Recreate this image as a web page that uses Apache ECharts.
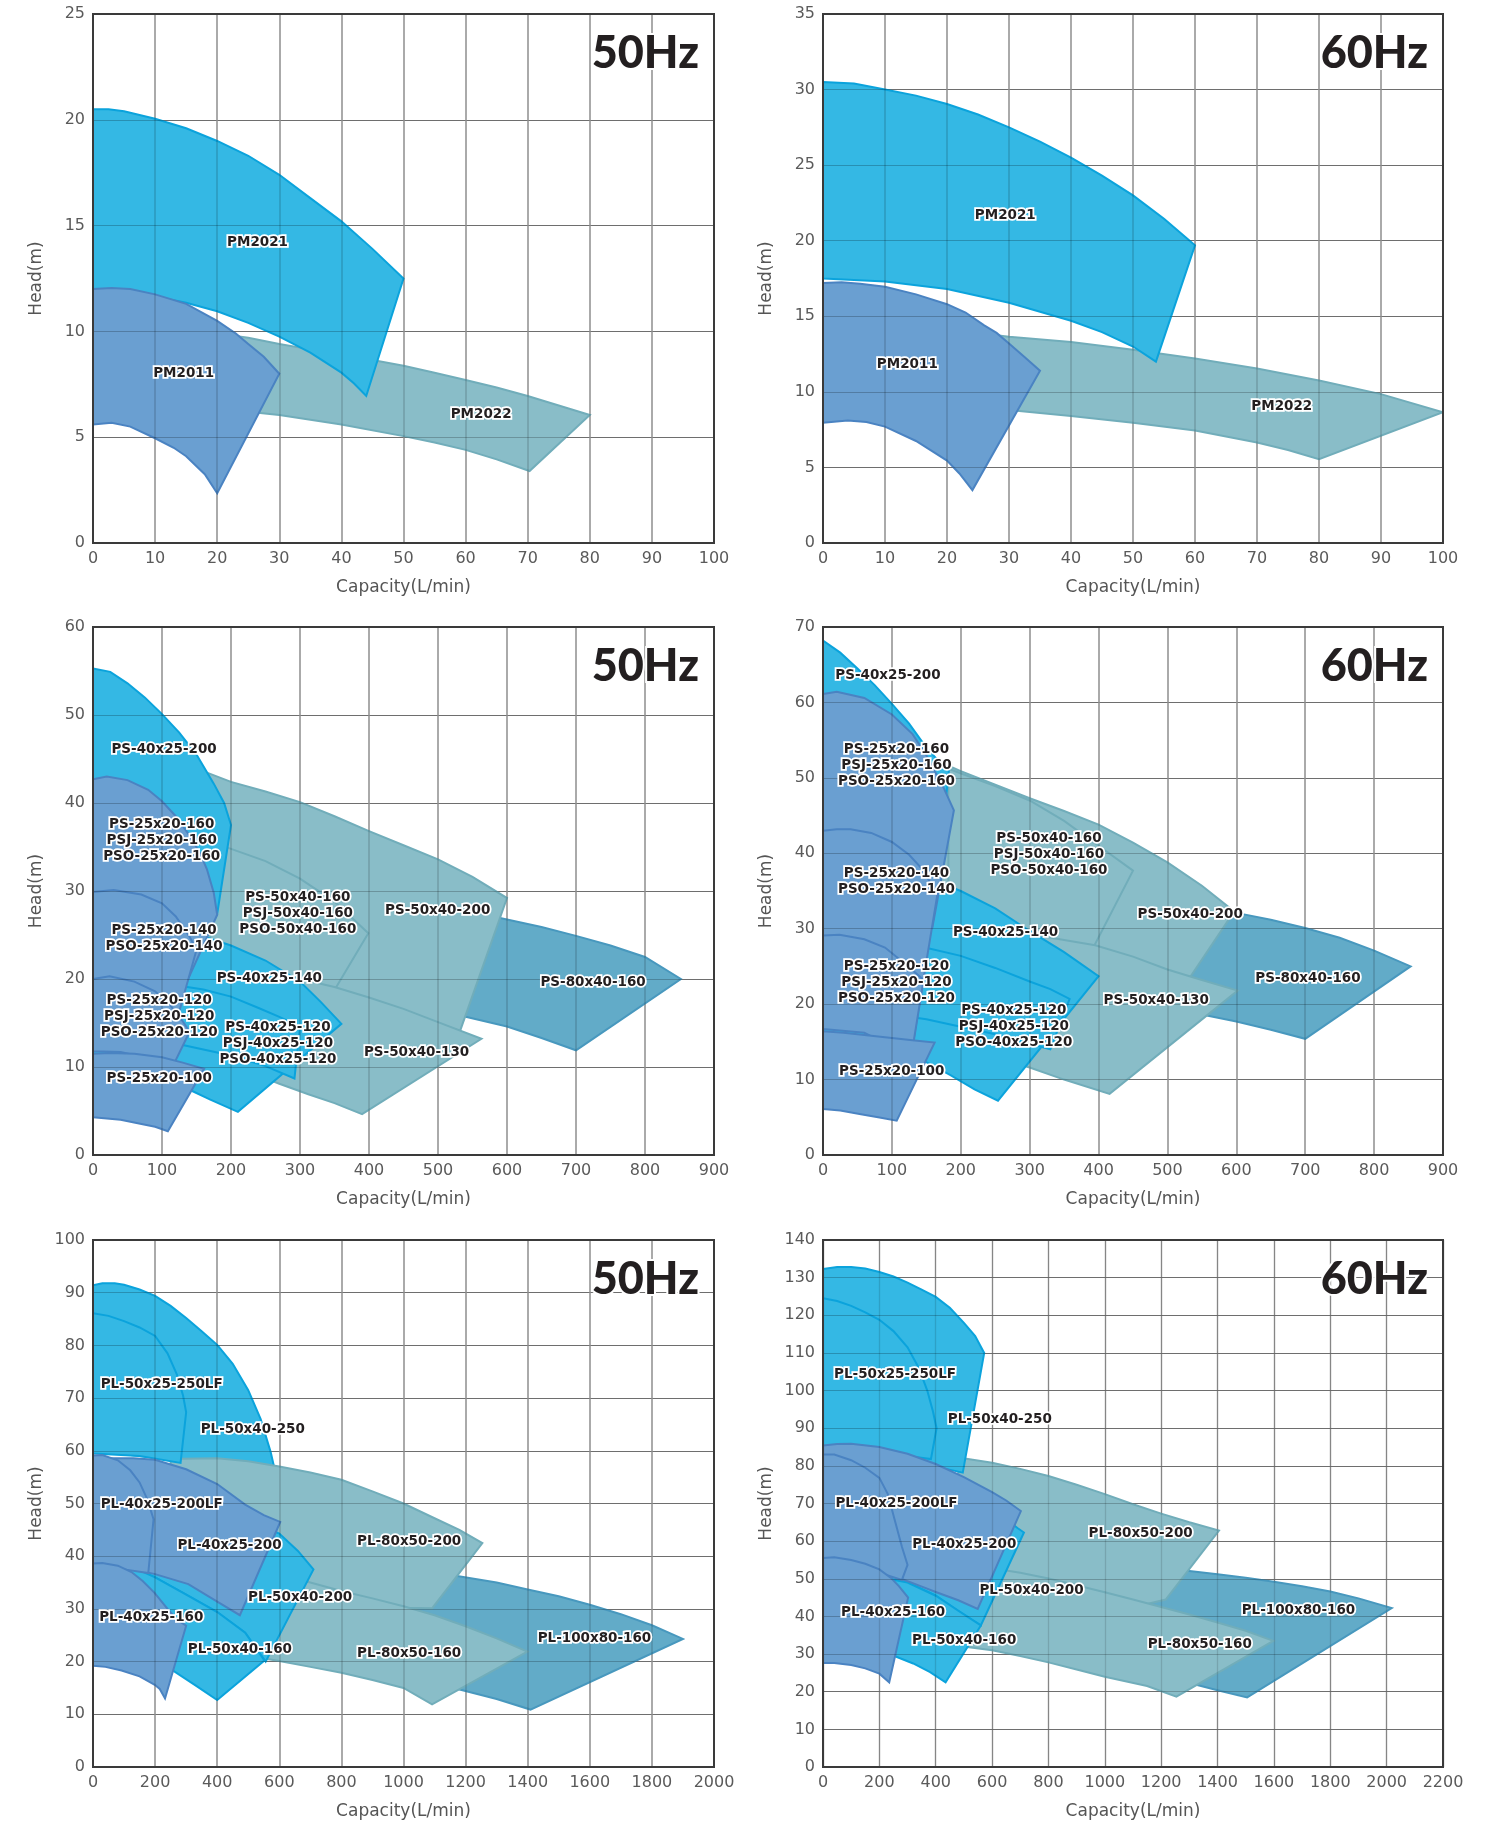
<!DOCTYPE html>
<html><head><meta charset="utf-8">
<script src="https://cdn.jsdelivr.net/npm/echarts@6/dist/echarts.min.js"></script>
<style>html,body{margin:0;padding:0;background:#fff}#c{width:1486px;height:1823px}</style>
</head><body><div id="c"></div><script>
// ---------- axis ranges [min, max, interval] ----------
const P1_X = [0, 100, 10],  P1_Y = [0, 25, 5];
const P2_X = [0, 100, 10],  P2_Y = [0, 35, 5];
const P3_X = [0, 900, 100], P3_Y = [0, 60, 10];
const P4_X = [0, 900, 100], P4_Y = [0, 70, 10];
const P5_X = [0, 2000, 200], P5_Y = [0, 100, 10];
const P6_X = [0, 2200, 200], P6_Y = [0, 140, 10];
const HZ = ['50Hz', '60Hz', '50Hz', '60Hz', '50Hz', '60Hz'];

// ---------- Panel 1 : PM 50Hz (capacity L/min, head m) ----------
const P1_PM2022_top = [[20,9.9],[25,9.7],[30,9.4],[35,9.15],[40,8.9],[45,8.65],[50,8.38],[55,8.05],[60,7.7],[65,7.35],[70,6.95],[75,6.5],[80,6.05]];
const P1_PM2022_bot = [[20,6.4],[25,6.2],[30,6.05],[40,5.6],[50,5.05],[55,4.75],[60,4.4],[65,3.95],[70.3,3.4]];
const P1_PM2021_top = [[0,20.5],[2.5,20.5],[5,20.4],[10,20.05],[15,19.6],[20,19.0],[25,18.3],[30,17.4],[35,16.3],[40,15.2],[45,13.9],[50,12.5]];
const P1_PM2021_bot = [[0,12.0],[5,11.85],[10,11.65],[15,11.35],[20,10.95],[25,10.4],[30,9.75],[35,9.0],[40,8.05],[42,7.55],[44,6.95]];
const P1_PM2011_top = [[0,12.0],[3,12.05],[6,12.0],[10,11.75],[15,11.3],[20,10.5],[23,9.9],[25,9.4],[27.5,8.8],[30,8.0]];
const P1_PM2011_bot = [[0,5.6],[3,5.68],[6,5.5],[10,4.95],[13,4.5],[15,4.1],[18,3.25],[20,2.35]];
const P1_LABELS = [['PM2021',26.5,14.2],['PM2011',14.6,8.0],['PM2022',62.5,6.05]];

// ---------- Panel 2 : PM 60Hz ----------
const P2_PM2022_top = [[25,13.9],[30,13.65],[40,13.3],[50,12.78],[60,12.2],[70,11.55],[80,10.75],[90,9.85],[100,8.65]];
const P2_PM2022_bot = [[25,8.95],[30,8.8],[40,8.4],[50,7.95],[60,7.45],[70,6.65],[75,6.15],[80,5.55]];
const P2_PM2021_top = [[0,30.5],[5,30.4],[10,30.0],[15,29.6],[20,29.05],[25,28.35],[30,27.5],[35,26.55],[40,25.5],[45,24.3],[50,23.0],[55,21.45],[60,19.7]];
const P2_PM2021_bot = [[0,17.5],[10,17.3],[20,16.8],[30,15.9],[40,14.7],[45,13.95],[50,13.0],[53.7,12.0]];
const P2_PM2011_top = [[0,17.2],[3,17.25],[6,17.15],[10,16.95],[15,16.45],[20,15.8],[23,15.25],[26,14.4],[28,13.9],[30,13.2],[32.5,12.3],[35,11.4]];
const P2_PM2011_bot = [[0,7.95],[4,8.1],[7,8.0],[10,7.7],[15,6.75],[20,5.45],[22,4.6],[24.1,3.5]];
const P2_LABELS = [['PM2021',29.4,21.66],['PM2011',13.6,11.8],['PM2022',74,9.05]];

// ---------- Panel 3 : PS 50Hz ----------
const P3_80x40_160_top = [[480,29.0],[580,27.1],[650,25.9],[700,24.9],[750,23.8],[800,22.5],[852,20.0]];
const P3_80x40_160_bot = [[480,16.7],[540,15.7],[600,14.6],[650,13.3],[700,11.9]];
const P3_50x40_200_top = [[150,43.9],[200,42.4],[250,41.3],[300,40.1],[350,38.5],[400,36.8],[450,35.2],[500,33.6],[550,31.6],[600,29.2]];
const P3_50x40_200_bot = [[150,21.5],[200,21.1],[250,20.5],[300,19.7],[350,18.8],[400,17.6],[450,16.3],[500,14.9],[532,14.1]];
const P3_50x40_160_top = [[170,35.6],[196,34.9],[250,33.4],[300,31.4],[350,28.8],[399,25.2]];
const P3_50x40_160_bot = [[170,21.3],[200,20.8],[250,19.8],[300,18.6],[339,17.3]];
const P3_50x40_130_top = [[150,21.8],[200,21.4],[250,20.8],[300,20.0],[350,19.1],[400,17.9],[450,16.6],[500,15.1],[563,13.2]];
const P3_50x40_130_bot = [[150,10.6],[200,9.8],[237,9.1],[270,8.1],[312,6.9],[350,5.9],[390,4.65]];
const P3_40x25_200_top = [[0,55.3],[25,54.9],[50,53.6],[75,52.0],[100,50.1],[125,48.0],[150,45.5],[175,42.2],[190,40.0],[200,37.5]];
const P3_40x25_200_bot = [[0,35],[80,34],[140,31],[180,27.4]];
const P3_40x25_140_top = [[0,26.5],[60,26.3],[120,25.6],[150,25.1],[200,23.8],[250,22.1],[300,19.7],[330,17.4],[360,14.9]];
const P3_40x25_140_bot = [[0,10.3],[80,9.3],[120,8.3],[143,7.3],[170,6.3],[210,4.9]];
const P3_40x25_120_top = [[0,20.5],[60,20.1],[120,19.3],[160,18.8],[200,18.0],[240,16.7],[270,15.7],[300,14.6]];
const P3_40x25_120_bot = [[0,14.0],[100,13.0],[200,11.3],[250,10.1],[292,8.7]];
const P3_25x20_160_top = [[0,42.7],[20,43.0],[50,42.6],[80,41.5],[100,40.2],[120,38.5],[140,36.3],[155,34.3],[165,32.5],[175,29.8],[180,27.3]];
const P3_25x20_160_bot = [[0,25.5],[50,25],[100,23],[135,19.5]];
const P3_25x20_140_top = [[0,29.9],[30,30.1],[70,29.6],[100,28.6],[120,27.1],[140,24.8],[150,23.3]];
const P3_25x20_140_bot = [[0,16.5],[80,15.5],[115,13.5]];
const P3_25x20_120_top = [[0,20.0],[24,20.3],[60,19.7],[90,18.6],[110,17.2],[130,15.2],[140,14.0]];
const P3_25x20_120_bot = [[0,11.8],[40,11.7],[80,11.0],[112,9.5]];
const P3_25x20_100_top = [[0,11.5],[24,11.6],[60,11.5],[100,11.1],[130,10.5],[161,9.8]];
const P3_25x20_100_bot = [[0,4.3],[40,4.0],[72,3.5],[90,3.2],[108.5,2.7]];
const P3_LABELS = [
  ['PS-40x25-200',103,46.1],
  ['PS-25x20-160\nPSJ-25x20-160\nPSO-25x20-160',99.6,35.7],
  ['PS-25x20-140\nPSO-25x20-140',103,24.6],
  ['PS-25x20-120\nPSJ-25x20-120\nPSO-25x20-120',96,15.7],
  ['PS-25x20-100',96,8.7],
  ['PS-40x25-140',255.6,20.1],
  ['PS-40x25-120\nPSJ-40x25-120\nPSO-40x25-120',268,12.7],
  ['PS-50x40-160\nPSJ-50x40-160\nPSO-50x40-160',296.8,27.4],
  ['PS-50x40-200',499.5,27.8],
  ['PS-50x40-130',469,11.7],
  ['PS-80x40-160',724.8,19.65]
];

// ---------- Panel 4 : PS 60Hz ----------
const P4_80x40_160_top = [[520,33.5],[560,32.8],[600,32.1],[650,31.2],[700,30.1],[750,28.8],[800,27.1],[853,25.0]];
const P4_80x40_160_bot = [[520,19.2],[557,18.5],[600,17.7],[650,16.6],[700,15.4]];
const P4_50x40_200_top = [[150,52.8],[182,51.6],[200,50.9],[250,49.1],[300,47.3],[350,45.6],[400,43.8],[450,41.4],[500,38.8],[550,35.7],[597,32.3]];
const P4_50x40_200_bot = [[150,31.5],[200,30.7],[250,29.9],[300,29.0],[350,28.2],[400,27.5],[450,26.0],[500,24.4],[533,23.6]];
const P4_50x40_160_top = [[182,51.2],[250,48.9],[300,47.0],[350,44.3],[400,41.0],[450,37.7]];
const P4_50x40_160_bot = [[182,30.2],[230,29.6],[280,28.6],[330,27.2],[381,25.5]];
const P4_50x40_130_top = [[200,31.0],[250,30.2],[300,29.3],[350,28.5],[395,27.8],[450,26.3],[500,24.6],[550,23.2],[602,21.8]];
const P4_50x40_130_bot = [[200,14.2],[250,13.0],[300,11.6],[350,10.0],[416,8.1]];
const P4_40x25_200_top = [[0,68.2],[25,66.6],[50,64.5],[75,62.3],[100,59.8],[125,57.2],[150,54.0],[170,52.0],[183,51.2]];
const P4_40x25_200_bot = [[0,50],[100,45],[168,38]];
const P4_40x25_140_top = [[0,38.0],[100,37.5],[150,36.8],[200,35.0],[250,32.7],[300,29.7],[350,26.9],[400,23.7]];
const P4_40x25_140_bot = [[0,15.5],[100,14.0],[150,12.3],[185,10.6],[220,8.7],[254,7.2]];
const P4_40x25_120_top = [[0,29.0],[60,28.7],[100,28.3],[148,27.5],[200,26.4],[250,24.8],[300,23.0],[330,22.0],[358,20.7]];
const P4_40x25_120_bot = [[0,20],[150,18],[250,16],[330,14.0]];
const P4_25x20_160_top = [[0,61.1],[20,61.4],[60,60.6],[100,58.4],[130,55.8],[150,53.0],[175,48.7],[190,45.7]];
const P4_25x20_160_bot = [[0,36],[100,34],[159,30.3]];
const P4_25x20_140_top = [[0,43.0],[20,43.2],[40,43.2],[70,42.7],[100,41.5],[125,39.8],[145,37.8],[166,34.5]];
const P4_25x20_140_bot = [[0,20.5],[80,19.5],[132,15.6]];
const P4_25x20_120_top = [[0,29.1],[24,29.2],[60,28.6],[90,27.5],[120,25.3],[146,23.2]];
const P4_25x20_120_bot = [[0,16.7],[60,16.2],[128,13.0]];
const P4_25x20_100_top = [[0,16.4],[30,16.2],[90,15.6],[130,15.2],[162,14.9]];
const P4_25x20_100_bot = [[0,6.1],[25,5.9],[55,5.4],[80,5.0],[107,4.55]];
const P4_LABELS = [
  ['PS-40x25-200',94.3,63.6],
  ['PS-25x20-160\nPSJ-25x20-160\nPSO-25x20-160',106.7,51.6],
  ['PS-25x20-140\nPSO-25x20-140',106.7,36.3],
  ['PS-40x25-140',265,29.5],
  ['PS-25x20-120\nPSJ-25x20-120\nPSO-25x20-120',106.7,22.9],
  ['PS-40x25-120\nPSJ-40x25-120\nPSO-40x25-120',277,17.0],
  ['PS-25x20-100',99.8,11.1],
  ['PS-50x40-160\nPSJ-50x40-160\nPSO-50x40-160',328,39.8],
  ['PS-50x40-200',533,31.9],
  ['PS-50x40-130',483.7,20.5],
  ['PS-80x40-160',704,23.4]
];

// ---------- Panel 5 : PL 50Hz ----------
const P5_100x80_160_top = [[1000,38.0],[1100,36.9],[1168,36.3],[1300,35.0],[1400,33.7],[1500,32.4],[1600,30.8],[1700,29.0],[1800,26.9],[1900,24.3]];
const P5_100x80_160_bot = [[1000,17.0],[1100,15.8],[1168,14.9],[1300,12.9],[1409,10.9]];
const P5_50x40_250_top = [[0,91.4],[30,91.8],[70,91.8],[100,91.5],[150,90.6],[200,89.4],[250,87.5],[300,85.2],[350,82.7],[400,80.1],[450,76.5],[500,71.5],[540,66.0],[572,59.8],[585,56.5]];
const P5_50x40_250_bot = [[0,60],[300,58],[500,52],[570,50]];
const P5_80x50_200_top = [[250,58.4],[285,58.5],[400,58.6],[500,58.0],[600,57.0],[700,55.9],[800,54.5],[900,52.3],[1000,50.0],[1100,47.2],[1180,45.0],[1254,42.5]];
const P5_80x50_200_bot = [[250,43],[400,40],[500,38.2],[600,36.3],[700,34.8],[800,33.0],[900,31.6],[1000,30.2],[1092,30.1]];
const P5_80x50_160_top = [[500,37.5],[550,37.0],[600,36.5],[700,35.0],[800,33.4],[900,32.0],[1000,30.5],[1100,28.8],[1200,26.7],[1300,24.4],[1399,21.9]];
const P5_80x50_160_bot = [[500,21.0],[550,20.6],[600,20.1],[700,19.0],[800,17.9],[900,16.5],[1000,15.0],[1092,11.9]];
const P5_50x25_250LF_top = [[0,86.1],[50,85.6],[100,84.6],[150,83.4],[200,81.8],[240,78.5],[270,74.5],[290,70.5],[300,67.3]];
const P5_50x25_250LF_bot = [[0,59.5],[150,59],[282,57.7]];
const P5_50x40_200_top = [[0,58],[200,56],[300,55],[400,52.5],[500,48.5],[565,45.2],[600,44.3],[660,41.0],[710,37.5]];
const P5_50x40_200_bot = [[0,38.5],[100,38.0],[150,37.3],[200,36.0],[300,32.7],[400,29.4],[490,25.5],[556,20.0]];
const P5_50x40_160_top = [[0,38.5],[100,38.0],[150,37.3],[200,36.0],[300,32.7],[400,29.4],[490,25.5],[552,20.2]];
const P5_50x40_160_bot = [[0,21],[100,20],[200,19.2],[258,18.3],[330,15.5],[400,12.7]];
const P5_40x25_200_top = [[0,58.5],[70,58.6],[130,58.6],[200,58.3],[300,56.5],[400,53.7],[490,49.8],[550,47.8],[603,46.5]];
const P5_40x25_200_bot = [[0,38.2],[145,37.3],[200,36.6],[307,34.7],[400,31.4],[473,28.8]];
const P5_40x25_200LF_top = [[0,59.1],[30,59.2],[80,58.2],[120,56.3],[150,54.0],[175,50.8],[195,47.0]];
const P5_40x25_200LF_bot = [[0,38.0],[100,37.5],[178,36.8]];
const P5_40x25_160_top = [[0,38.6],[30,38.7],[80,38.2],[124,37.0],[160,35.3],[199,33.0],[240,30.0],[270,28.0],[300,26.8]];
const P5_40x25_160_bot = [[0,19.2],[40,19.0],[92,18.3],[150,17.2],[199,15.6],[215,14.8],[232,13.0]];
const P5_LABELS = [
  ['PL-50x25-250LF',221,72.6],['PL-50x40-250',514.5,64.1],['PL-40x25-200LF',221,49.9],
  ['PL-40x25-200',439.7,42.1],['PL-80x50-200',1018,42.8],['PL-50x40-200',667,32.1],
  ['PL-40x25-160',187.8,28.3],['PL-50x40-160',473,22.3],['PL-80x50-160',1018,21.6],
  ['PL-100x80-160',1615,24.3]
];

// ---------- Panel 6 : PL 60Hz ----------
const P6_100x80_160_top = [[1150,53.2],[1250,52.5],[1300,52.1],[1400,51.2],[1500,50.3],[1600,49.2],[1700,48.0],[1800,46.6],[1900,44.8],[2018,42.2]];
const P6_100x80_160_bot = [[1150,24.5],[1250,23.2],[1300,22.3],[1400,20.4],[1505,18.5]];
const P6_80x50_200_top = [[480,82.2],[600,80.8],[700,79.2],[800,77.3],[900,75.0],[1000,72.5],[1100,69.8],[1200,67.3],[1300,65.0],[1405,62.8]];
const P6_80x50_200_bot = [[480,53.4],[600,52.5],[700,51.3],[800,49.8],[900,48.0],[1000,46.1],[1100,44.2],[1150,43.3],[1216,44.5]];
const P6_80x50_160_top = [[500,53.5],[600,52.8],[700,51.6],[800,50.1],[900,48.3],[1000,46.4],[1100,44.5],[1200,42.5],[1300,40.5],[1400,38.4],[1500,36.2],[1598,33.5]];
const P6_80x50_160_bot = [[500,32.0],[600,31.0],[700,29.5],[800,27.8],[900,25.9],[1000,24.0],[1150,21.5],[1254,18.7]];
const P6_50x40_250_top = [[0,132.3],[50,132.8],[100,132.8],[150,132.4],[200,131.5],[250,130.3],[300,128.7],[350,126.8],[400,124.9],[450,122.0],[500,118.0],[540,114.5],[572,110.0]];
const P6_50x40_250_bot = [[0,84.5],[200,84],[300,82.5],[400,79.8],[496,78.2]];
const P6_50x25_250LF_top = [[0,124.5],[50,123.8],[100,122.5],[150,120.8],[200,118.8],[250,115.8],[300,111.5],[340,106.0],[370,100.0],[390,94.5],[403,90.0]];
const P6_50x25_250LF_bot = [[0,84.5],[200,84.0],[300,82.6],[383,81.8]];
const P6_50x40_200_top = [[0,84],[200,83],[400,78.5],[550,72],[650,65.8],[690,63.5],[713,62.3]];
const P6_50x40_200_bot = [[0,52],[100,51.6],[200,50.5],[300,49.0],[400,45.5],[480,41.5],[560,37.6]];
const P6_50x40_160_top = [[0,52],[100,51.6],[200,50.5],[300,49.0],[400,45.5],[480,41.5],[560,37.6]];
const P6_50x40_160_bot = [[0,33],[200,30.5],[260,29.3],[320,27.5],[380,25.2],[435,22.5]];
const P6_40x25_200_top = [[0,85.4],[50,85.8],[100,85.9],[200,85.0],[300,83.2],[400,80.5],[500,77.0],[600,73.0],[650,70.8],[702,68.0]];
const P6_40x25_200_bot = [[0,53],[200,51.5],[270,50.2],[330,48.5],[400,46.5],[480,44.3],[549,42.0]];
const P6_40x25_200LF_top = [[0,83.0],[40,83.0],[100,81.5],[150,79.5],[200,76.8],[230,72.5],[255,65.5],[280,58.5],[300,53.7]];
const P6_40x25_200LF_bot = [[0,54.5],[150,52.8],[280,49.7]];
const P6_40x25_160_top = [[0,55.5],[40,55.7],[100,55.0],[150,54.0],[200,52.5],[240,50.3],[270,48.0],[302,45.0]];
const P6_40x25_160_bot = [[0,27.6],[40,27.6],[100,27.1],[150,26.2],[200,24.8],[235,22.5]];
const P6_LABELS = [
  ['PL-50x25-250LF',255.7,104.4],['PL-50x40-250',627.4,92.3],['PL-40x25-200LF',260.7,69.9],
  ['PL-40x25-200',501.3,59.2],['PL-80x50-200',1127,62.0],['PL-50x40-200',740,46.9],
  ['PL-40x25-160',249,41.1],['PL-50x40-160',501,33.7],['PL-80x50-160',1337,32.5],
  ['PL-100x80-160',1687,41.65]
];

// ---------- shape stacks (bottom first): [colour, top curve, bottom curve] ----------
const P1_SHAPES = [['teal',P1_PM2022_top,P1_PM2022_bot],['cyan',P1_PM2021_top,P1_PM2021_bot],['blue',P1_PM2011_top,P1_PM2011_bot]];
const P2_SHAPES = [['teal',P2_PM2022_top,P2_PM2022_bot],['cyan',P2_PM2021_top,P2_PM2021_bot],['blue',P2_PM2011_top,P2_PM2011_bot]];
const P3_SHAPES = [
  ['dark',P3_80x40_160_top,P3_80x40_160_bot],['teal',P3_50x40_200_top,P3_50x40_200_bot],
  ['teal',P3_50x40_160_top,P3_50x40_160_bot],['teal',P3_50x40_130_top,P3_50x40_130_bot],
  ['cyan',P3_40x25_200_top,P3_40x25_200_bot],['cyan',P3_40x25_140_top,P3_40x25_140_bot],
  ['cyan',P3_40x25_120_top,P3_40x25_120_bot],
  ['blue',P3_25x20_160_top,P3_25x20_160_bot],['blue',P3_25x20_140_top,P3_25x20_140_bot],
  ['blue',P3_25x20_120_top,P3_25x20_120_bot],['blue',P3_25x20_100_top,P3_25x20_100_bot]
];
const P4_SHAPES = [
  ['dark',P4_80x40_160_top,P4_80x40_160_bot],['teal',P4_50x40_200_top,P4_50x40_200_bot],
  ['teal',P4_50x40_160_top,P4_50x40_160_bot],['teal',P4_50x40_130_top,P4_50x40_130_bot],
  ['cyan',P4_40x25_200_top,P4_40x25_200_bot],['cyan',P4_40x25_140_top,P4_40x25_140_bot],
  ['cyan',P4_40x25_120_top,P4_40x25_120_bot],
  ['blue',P4_25x20_160_top,P4_25x20_160_bot],['blue',P4_25x20_140_top,P4_25x20_140_bot],
  ['blue',P4_25x20_120_top,P4_25x20_120_bot],['blue',P4_25x20_100_top,P4_25x20_100_bot]
];
const P5_SHAPES = [
  ['dark',P5_100x80_160_top,P5_100x80_160_bot],['cyan',P5_50x40_250_top,P5_50x40_250_bot],
  ['teal',P5_80x50_200_top,P5_80x50_200_bot],['teal',P5_80x50_160_top,P5_80x50_160_bot],
  ['cyan',P5_50x25_250LF_top,P5_50x25_250LF_bot],['cyan',P5_50x40_200_top,P5_50x40_200_bot],
  ['cyan',P5_50x40_160_top,P5_50x40_160_bot],
  ['blue',P5_40x25_200_top,P5_40x25_200_bot],['blue',P5_40x25_200LF_top,P5_40x25_200LF_bot],
  ['blue',P5_40x25_160_top,P5_40x25_160_bot]
];
const P6_SHAPES = [
  ['dark',P6_100x80_160_top,P6_100x80_160_bot],['teal',P6_80x50_200_top,P6_80x50_200_bot],
  ['teal',P6_80x50_160_top,P6_80x50_160_bot],['cyan',P6_50x40_250_top,P6_50x40_250_bot],
  ['cyan',P6_50x25_250LF_top,P6_50x25_250LF_bot],['cyan',P6_50x40_200_top,P6_50x40_200_bot],
  ['cyan',P6_50x40_160_top,P6_50x40_160_bot],
  ['blue',P6_40x25_200_top,P6_40x25_200_bot],['blue',P6_40x25_200LF_top,P6_40x25_200LF_bot],
  ['blue',P6_40x25_160_top,P6_40x25_160_bot]
];

// ---------- styling / layout ----------
const FILL = {cyan:'#34b8e4', blue:'#6a9fd1', teal:'#89bdc8', dark:'#62abc8'};
const STROKE = {cyan:'#0ba3dc', blue:'#4a83c2', teal:'#71adba', dark:'#4898be'};
const GRIDS = [[93,14,621,529],[823,14,620,529],[93,627,621,528],[823,627,620,528],[93,1240,621,527],[823,1240,620,527]];
const PANELS = [
  [P1_X,P1_Y,P1_SHAPES,P1_LABELS],[P2_X,P2_Y,P2_SHAPES,P2_LABELS],[P3_X,P3_Y,P3_SHAPES,P3_LABELS],
  [P4_X,P4_Y,P4_SHAPES,P4_LABELS],[P5_X,P5_Y,P5_SHAPES,P5_LABELS],[P6_X,P6_Y,P6_SHAPES,P6_LABELS]
];
const AXIS_FONT = '"DejaVu Sans", sans-serif';
function plain(v){ return String(v); }

const option = {animation:false, backgroundColor:'#fff', grid:[], xAxis:[], yAxis:[], series:[], graphic:[]};
PANELS.forEach(function(p, i){
  const g = GRIDS[i];
  const ax = i * 2;
  option.grid.push({left:g[0], top:g[1], width:g[2], height:g[3], show:true, z:10,
    backgroundColor:'transparent', borderColor:'#3a3a3a', borderWidth:2});
  // base axes (labels, names, grid lines under the shapes)
  option.xAxis.push({gridIndex:i, type:'value', min:p[0][0], max:p[0][1], interval:p[0][2], z:0,
    name:'Capacity(L/min)', nameLocation:'middle', nameGap:36,
    nameTextStyle:{color:'#555', fontSize:17, fontFamily:AXIS_FONT},
    axisLine:{show:false}, axisTick:{show:false},
    axisLabel:{color:'#5a5a5a', fontSize:16, fontFamily:AXIS_FONT, margin:8, formatter:plain},
    splitLine:{show:true, lineStyle:{color: i===5 ? '#9a9a9a' : '#c4c4c4', width: i===5 ? 1.3 : 2}}});
  option.yAxis.push({gridIndex:i, type:'value', min:p[1][0], max:p[1][1], interval:p[1][2], z:0,
    name:'Head(m)', nameLocation:'middle', nameGap:48,
    nameTextStyle:{color:'#555', fontSize:17, fontFamily:AXIS_FONT},
    axisLine:{show:false}, axisTick:{show:false},
    axisLabel:{color:'#5a5a5a', fontSize:16, fontFamily:AXIS_FONT, margin:8, formatter:plain},
    splitLine:{show:true, lineStyle:{color:'#8e8e8e', width:1.2}}});
  // overlay axes: faint grid lines drawn over the shapes
  option.xAxis.push({gridIndex:i, type:'value', min:p[0][0], max:p[0][1], interval:p[0][2], z:3, silent:true,
    axisLine:{show:false}, axisTick:{show:false}, axisLabel:{show:false},
    splitLine:{show:true, lineStyle:{color:'rgba(0,0,0,0.13)', width: i===5 ? 1.3 : 2}}});
  option.yAxis.push({gridIndex:i, type:'value', min:p[1][0], max:p[1][1], interval:p[1][2], z:3, silent:true,
    axisLine:{show:false}, axisTick:{show:false}, axisLabel:{show:false},
    splitLine:{show:true, lineStyle:{color:'rgba(0,0,0,0.22)', width:1.2}}});
  const shapes = p[2];
  option.series.push({type:'custom', coordinateSystem:'cartesian2d', xAxisIndex:ax, yAxisIndex:ax, z:2, clip:true, silent:true,
    data: shapes.map(function(s, k){ return [s[1][0][0], s[1][0][1], k]; }),
    renderItem: function(params, api){
      const s = shapes[params.dataIndex];
      const pts = s[1].concat(s[2].slice().reverse()).map(function(d){ return api.coord(d); });
      return {type:'polygon', shape:{points:pts},
        style:{fill:FILL[s[0]], stroke:STROKE[s[0]], lineWidth:2, lineJoin:'miter'}};
    }});
  const labels = p[3];
  option.series.push({type:'custom', coordinateSystem:'cartesian2d', xAxisIndex:ax, yAxisIndex:ax, z:5, silent:true,
    data: labels.map(function(l){ return [l[1], l[2]]; }),
    renderItem: function(params, api){
      const l = labels[params.dataIndex];
      const c = api.coord([l[1], l[2]]);
      return {type:'text', x:c[0], y:c[1],
        style:{text:l[0], font:'bold 13.5px "DejaVu Sans", sans-serif', fill:'#231f20',
          stroke:'#ffffff', lineWidth:3.5, strokeFirst:true, align:'center', verticalAlign:'middle', lineHeight:16}};
    }});
  option.graphic.push({type:'text', z:100, x:g[0]+g[2]-15, y:g[1]+39,
    style:{text:HZ[i], font:'900 45px Lato, "DejaVu Sans", sans-serif', fill:'#231f20',
      stroke:'#ffffff', lineWidth:4, strokeFirst:true, align:'right', verticalAlign:'middle'}});
});

const chart = echarts.init(document.getElementById('c'), null, {renderer:'canvas'});
chart.setOption(option);
</script></body></html>
